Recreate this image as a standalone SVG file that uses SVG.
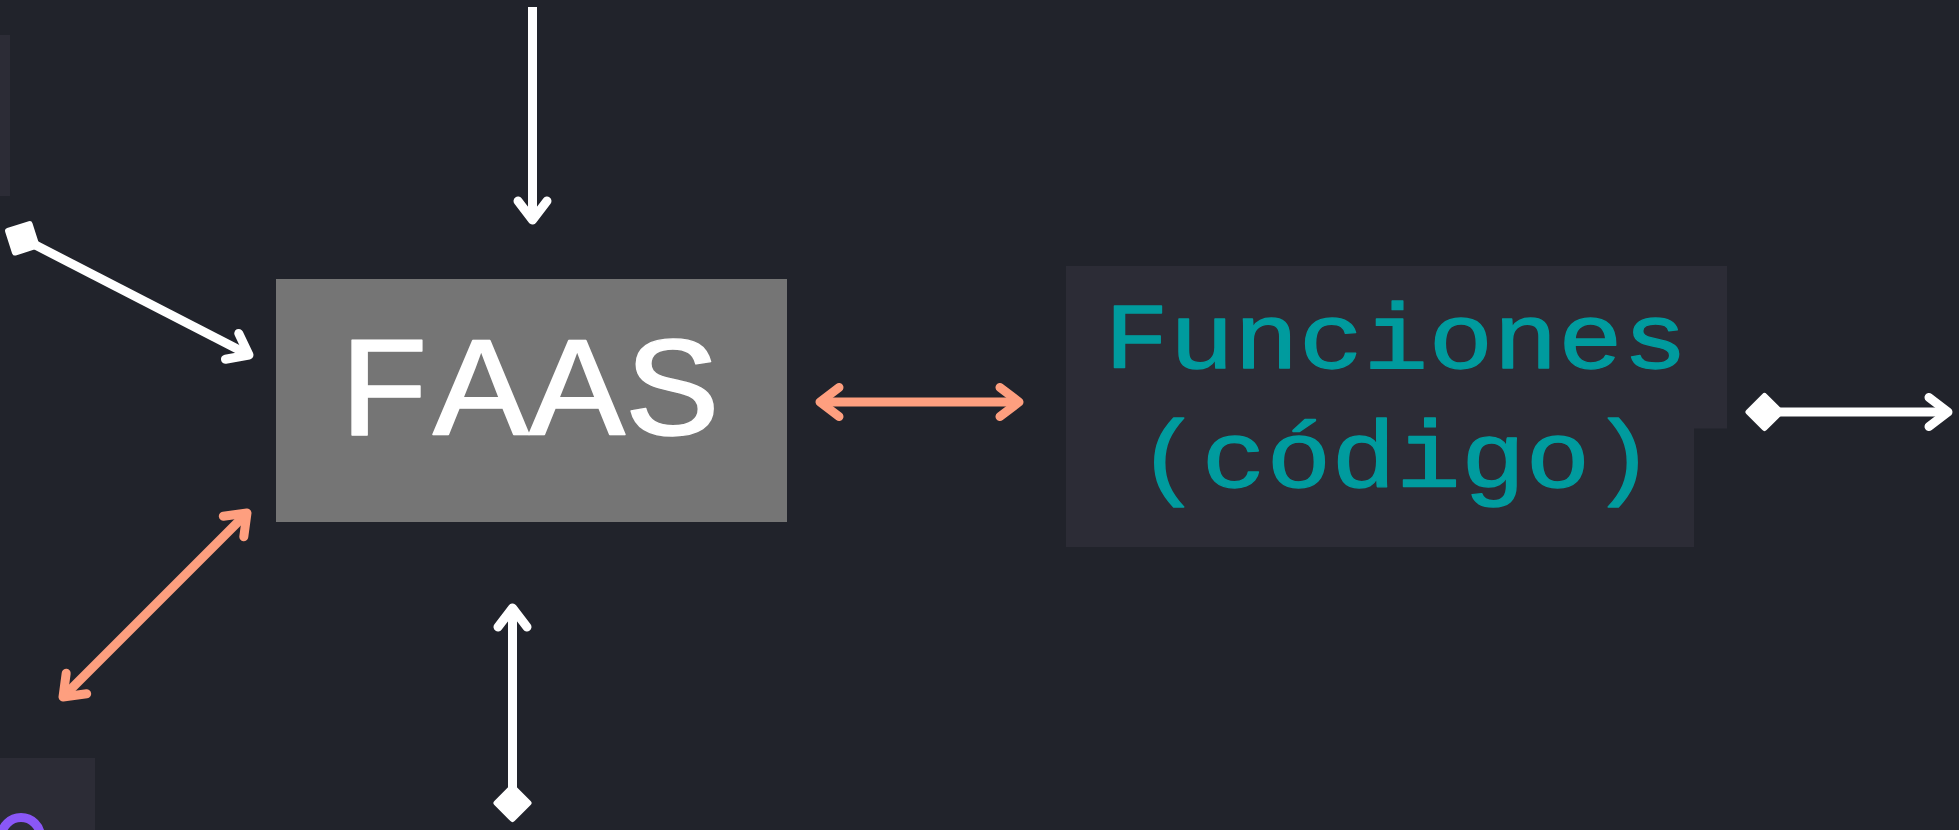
<svg xmlns="http://www.w3.org/2000/svg" width="1959" height="830" viewBox="0 0 1959 830">
<style>
.bg{fill:#21232b}
.panel{fill:#2c2c36}
.faas{fill:#757575}
.t-faas{font-family:"Liberation Mono","Courier New",monospace;font-size:160px;fill:#ffffff;stroke:#ffffff;stroke-width:1.5;stroke-linejoin:round;text-anchor:middle}
.t-fun{font-family:"Liberation Mono","Courier New",monospace;font-size:108px;fill:#009b9e;stroke:#009b9e;stroke-width:1.5;stroke-linejoin:round;text-anchor:middle}
.w{fill:none;stroke:#ffffff;stroke-width:9}
.o{fill:none;stroke:#fe9f7f;stroke-width:9}
</style>
<defs>
<marker id="chevW" markerUnits="userSpaceOnUse" viewBox="-30 -25 40 50" markerWidth="40" markerHeight="50" refX="0" refY="0" orient="auto-start-reverse" overflow="visible">
<path d="M-19 -14.5 L0 0 L-19 14.5" fill="none" stroke="#ffffff" stroke-width="9" stroke-linecap="round" stroke-linejoin="round"/>
</marker>
<marker id="chevO" markerUnits="userSpaceOnUse" viewBox="-30 -25 40 50" markerWidth="40" markerHeight="50" refX="0" refY="0" orient="auto-start-reverse" overflow="visible">
<path d="M-19 -14.5 L0 0 L-19 14.5" fill="none" stroke="#fe9f7f" stroke-width="9" stroke-linecap="round" stroke-linejoin="round"/>
</marker>
<marker id="diaW" markerUnits="userSpaceOnUse" viewBox="-25 -25 50 50" markerWidth="50" markerHeight="50" refX="0" refY="0" orient="auto" overflow="visible">
<path d="M-16 0 L0 -16 L16 0 L0 16 Z" fill="#ffffff" stroke="#ffffff" stroke-width="6" stroke-linejoin="round"/>
</marker>
</defs>
<rect class="bg" x="0" y="0" width="1959" height="830"/>
<g id="node-left-top">
<rect class="panel" x="0" y="35" width="10" height="161"/>
</g>
<g id="node-left-bottom">
<rect class="panel" x="0" y="758" width="95" height="72"/>
<circle cx="21" cy="837" r="19.5" fill="none" stroke="#8a57f7" stroke-width="9"/>
</g>
<g id="node-faas">
<rect class="faas" x="276" y="279" width="511" height="243"/>
<text class="t-faas" transform="translate(529 435) scale(1 0.89)" x="0" y="0">FAAS</text>
</g>
<g id="node-funciones">
<path class="panel" d="M1066 266 H1727 V428.5 H1694 V547 H1066 Z"/>
<text class="t-fun" transform="translate(1396 368) scale(1 0.85)" x="0" y="0">Funciones</text>
<text class="t-fun" transform="translate(1396 487) scale(1 0.88)" x="0" y="0">(código)</text>
</g>
<g id="connectors">
<path class="w" d="M532.5 7 L532.5 220" marker-end="url(#chevW)"/>
<path class="w" d="M22.3 238.3 L249 355" marker-start="url(#diaW)" marker-end="url(#chevW)"/>
<path class="w" d="M512.5 803 L512.5 608" marker-start="url(#diaW)" marker-end="url(#chevW)"/>
<path class="o" d="M820 402 L1019 402" marker-start="url(#chevO)" marker-end="url(#chevO)"/>
<path class="o" d="M247 513 L63 697" marker-start="url(#chevO)" marker-end="url(#chevO)"/>
<path class="w" d="M1764.5 412 L1948 412" marker-start="url(#diaW)" marker-end="url(#chevW)"/>
</g>
</svg>
